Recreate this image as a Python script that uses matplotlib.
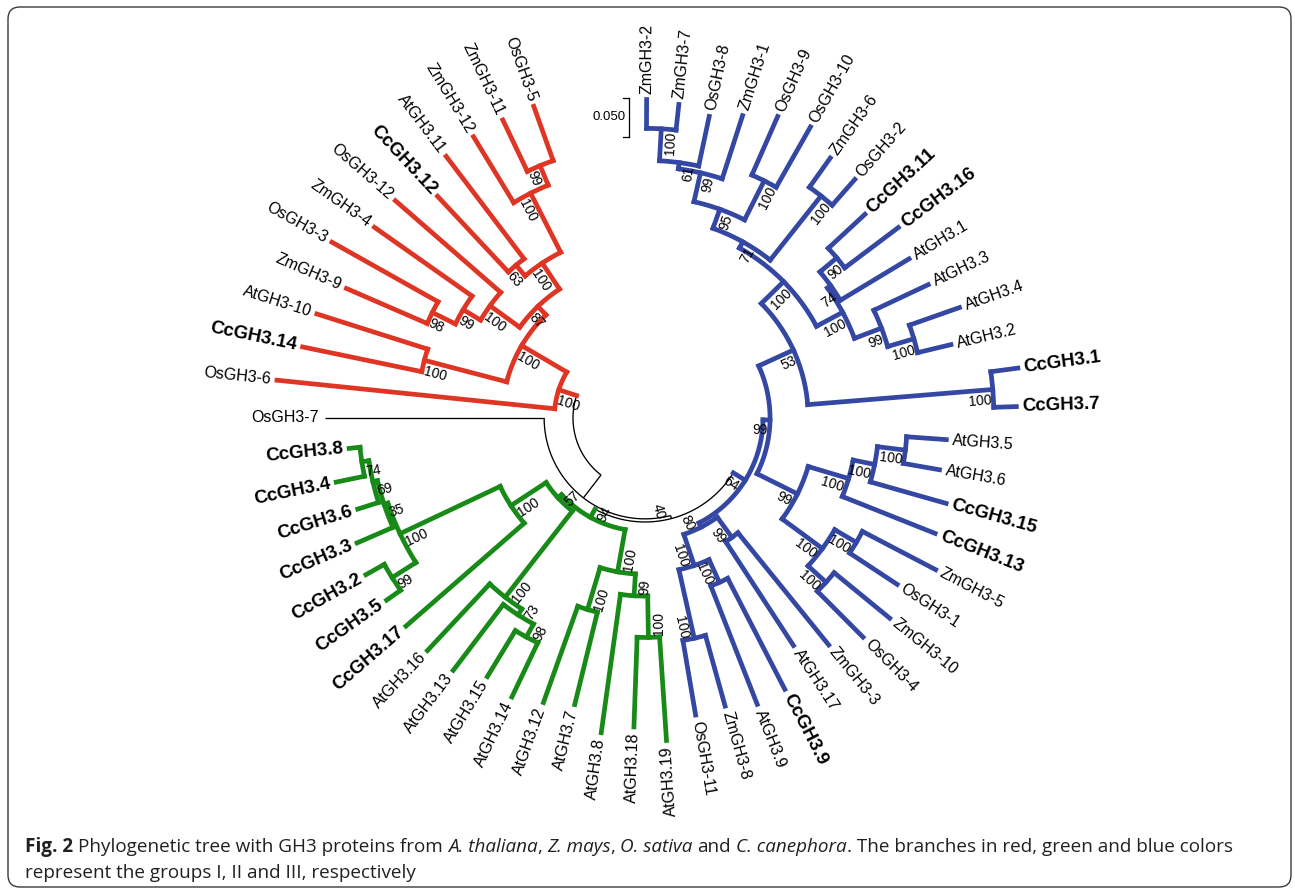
import numpy as np
import matplotlib
matplotlib.use("Agg")
import matplotlib.pyplot as plt
from matplotlib import font_manager as fm
from matplotlib.patches import FancyBboxPatch
from matplotlib.lines import Line2D
from matplotlib.transforms import IdentityTransform

# ---------------- data: tree topology, branch lengths, bootstrap values ----------------
GROUP_I_NEWICK = ("((((((OsGH3-5:0.074,ZmGH3-11:0.073)99:0.027,ZmGH3-12:0.099)100:0.085,"
                  "(AtGH3.11:0.165,CcGH3.12:0.133)63:0.018)100:0.040,"
                  "(OsGH3-12:0.179,(ZmGH3-4:0.153,(OsGH3-3:0.156,ZmGH3-9:0.113)98:0.033)99:0.026)100:0.047)87:0.015,"
                  "(AtGH3-10:0.149,CcGH3.14:0.156)100:0.109)100:0.067,OsGH3-6:0.358)100")
GROUP_II_NEWICK = ("(((((((CcGH3.8:0.014,CcGH3.4:0.037)74:0.009,CcGH3.6:0.028)69:0.006,CcGH3.3:0.050)35:0.005,"
                   "(CcGH3.2:0.027,CcGH3.5:0.022)99:0.036)100:0.142,CcGH3.17:0.201)100:0.054,"
                   "(AtGH3.16:0.117,(AtGH3.13:0.106,(AtGH3.15:0.069,AtGH3.14:0.077)98:0.019)73:0.009)100:0.140)57:0.006,"
                   "((AtGH3.12:0.131,AtGH3.7:0.122)100:0.056,"
                   "(AtGH3.8:0.179,(AtGH3.18:0.115,AtGH3.19:0.133)100:0.053)99:0.028)100:0.055)94")
GROUP_III_NEWICK = ("((((OsGH3-11:0.097,ZmGH3-8:0.094)100:0.090,(AtGH3.9:0.163,CcGH3.9:0.160)100:0.032)100:0.042,"
                    "(AtGH3.17:0.159,ZmGH3-3:0.185)99:0.032)80:0.006,"
                    "((((OsGH3-4:0.083,ZmGH3-10:0.092)100:0.031,(OsGH3-1:0.073,ZmGH3-5:0.106)100:0.032)100:0.064,"
                    "(CcGH3.13:0.128,(CcGH3.15:0.101,(AtGH3.6:0.047,AtGH3.5:0.051)100:0.036)100:0.028)100:0.054)99:0.058,"
                    "((CcGH3.7:0.029,CcGH3.1:0.035)100:0.238,"
                    "((((AtGH3.2:0.044,AtGH3.4:0.068)100:0.035,AtGH3.3:0.077)99:0.037,"
                    "(AtGH3.1:0.103,(CcGH3.16:0.086,CcGH3.11:0.064)90:0.028)74:0.005)100:0.038,"
                    "((OsGH3-2:0.044,ZmGH3-6:0.046)100:0.105,((OsGH3-10:0.089,OsGH3-9:0.082)100:0.056,"
                    "(ZmGH3-1:0.085,(OsGH3-8:0.065,(ZmGH3-7:0.033,ZmGH3-2:0.037)100:0.041)61:0.008)99:0.038)95:0.026)71:0.009)"
                    "100:0.040)53:0.049)99:0.009)64")
ROOT_NEWICK = "(GROUP_I:0.024,(OsGH3-7:0.281,(GROUP_II:0.012,GROUP_III:0.018)40:0.004):0.037)"
SCALE_VALUE = 0.05
SCALE_LABEL = "0.050"

CAPTION_LINE1 = [("Fig. 2", "bold", False),
                 ("Phylogenetic tree with GH3 proteins from", "normal", True),
                 ("A. thaliana", "italic", True), (",", "normal", False),
                 ("Z. mays", "italic", True), (",", "normal", False),
                 ("O. sativa", "italic", True), ("and", "normal", True),
                 ("C. canephora", "italic", True),
                 (". The branches in red, green and blue colors", "normal", False)]
CAPTION_LINE2 = [("represent the groups I, II and III, respectively", "normal", False)]

# ---------------- style / layout ----------------
W, H = 1295, 891
CX, CY = 645, 418          # tree centre (pixels from top-left)
R_PX = 400
PX_PER_UNIT = 780.0
ROOT_OFFSET = 72 / PX_PER_UNIT
GAP_SLOTS = 2.4
ANCHOR_TIP, ANCHOR_DEG = "OsGH3-7", 180.0
GROUP_COLORS = {"I": "#DF3524", "II": "#178A17", "III": "#3447A3"}
LW_COLOR, LW_BLACK = 3.4, 0.95
TIP_FONT = "Liberation Sans"
CAP_FONT = "Open Sans"


def parse_newick(s):
    pos = 0

    def node():
        nonlocal pos
        n = {"children": [], "name": "", "support": "", "length": 0.0}
        if s[pos] == "(":
            pos += 1
            while True:
                n["children"].append(node())
                if s[pos] == ",":
                    pos += 1
                    continue
                if s[pos] == ")":
                    pos += 1
                    break
        start = pos
        while pos < len(s) and s[pos] not in ":,();":
            pos += 1
        label = s[start:pos]
        if n["children"]:
            n["support"] = label
        else:
            n["name"] = label
        if pos < len(s) and s[pos] == ":":
            pos += 1
            start = pos
            while pos < len(s) and s[pos] not in ",();":
                pos += 1
            n["length"] = float(s[start:pos])
        return n

    return node()


groups = {"GROUP_I": ("I", parse_newick(GROUP_I_NEWICK)),
          "GROUP_II": ("II", parse_newick(GROUP_II_NEWICK)),
          "GROUP_III": ("III", parse_newick(GROUP_III_NEWICK))}
root = parse_newick(ROOT_NEWICK)


def mark(n, g):
    n["group"] = g
    for c in n["children"]:
        mark(c, g)


def graft(n):
    for i, c in enumerate(n["children"]):
        if c["name"] in groups:
            g, sub = groups[c["name"]]
            sub["length"] = c["length"]
            mark(sub, g)
            n["children"][i] = sub
        else:
            c.setdefault("group", None)
            graft(c)


root["group"] = None
graft(root)

leaves = []


def collect(n):
    if not n["children"]:
        leaves.append(n)
    for c in n["children"]:
        collect(c)


collect(root)


def set_r(n, r0):
    n["r"] = r0 + n["length"]
    for c in n["children"]:
        set_r(c, n["r"])


root["length"] = 0.0
set_r(root, ROOT_OFFSET)

step = 360.0 / (len(leaves) + GAP_SLOTS)
anchor_idx = [lf["name"] for lf in leaves].index(ANCHOR_TIP)
for i, lf in enumerate(leaves):
    lf["theta"] = ANCHOR_DEG + (i - anchor_idx) * step


def set_theta(n):
    if n["children"]:
        for c in n["children"]:
            set_theta(c)
        n["theta"] = 0.5 * (n["children"][0]["theta"] + n["children"][-1]["theta"])


set_theta(root)

# ---------------- figure ----------------
fig = plt.figure(figsize=(W / 100, H / 100), dpi=100)
fig.patch.set_facecolor("white")
ax = fig.add_axes([(CX - R_PX) / W, (H - CY - R_PX) / H, 2 * R_PX / W, 2 * R_PX / H],
                  projection="polar")
ax.set_axis_off()
ax.set_autoscale_on(False)
ax.set_ylim(0, R_PX / PX_PER_UNIT)


def draw(n, parent_r):
    col = GROUP_COLORS.get(n["group"], "black")
    lw = LW_COLOR if n["group"] else LW_BLACK
    z = 3 if n["group"] else 2
    cap = "projecting" if n["group"] else "butt"
    th = np.deg2rad(n["theta"])
    if parent_r is not None:
        ax.plot([th, th], [parent_r, n["r"]], color=col, lw=lw, zorder=z,
                solid_capstyle=cap, clip_on=False)
    if n["children"]:
        t1 = np.deg2rad(n["children"][0]["theta"])
        t2 = np.deg2rad(n["children"][-1]["theta"])
        k = max(2, int(abs(t2 - t1) / 0.005))
        tt = np.linspace(t1, t2, k)
        ax.plot(tt, np.full_like(tt, n["r"]), color=col, lw=lw, zorder=z,
                solid_capstyle=cap, clip_on=False)
        for c in n["children"]:
            draw(c, n["r"])


draw(root, None)


def orient(theta):
    a = theta % 360
    if 90 < a < 277:
        return a - 180, "left_side"
    return (a if a <= 90 else a - 360), "right_side"


TIP_OFF = 6 / PX_PER_UNIT
for lf in leaves:
    rot, side = orient(lf["theta"])
    bold = lf["name"].startswith("Cc")
    ax.text(np.deg2rad(lf["theta"]), lf["r"] + TIP_OFF, lf["name"],
            rotation=rot, rotation_mode="anchor",
            ha="left" if side == "right_side" else "right", va="center",
            fontsize=13.5 if bold else 11.5, fontweight="bold" if bold else "normal",
            family=TIP_FONT, color="black", zorder=5)

internal = []


def collect_int(n):
    if n["children"]:
        internal.append(n)
        for c in n["children"]:
            collect_int(c)


collect_int(root)
for n in internal:
    if not n["support"]:
        continue
    rot, side = orient(n["theta"])
    r_px = n["r"] * PX_PER_UNIT
    dth = 3.5 / r_px
    th = np.deg2rad(n["theta"]) + (-dth if side == "right_side" else dth)
    ax.text(th, n["r"] - 2 / PX_PER_UNIT, n["support"], rotation=rot, rotation_mode="anchor",
            ha="right" if side == "right_side" else "left", va="top",
            fontsize=10, family=TIP_FONT, color="black", zorder=6)

# ---------------- scale bar ----------------
p0 = ax.transData.transform((0, 0))
p1 = ax.transData.transform((0, SCALE_VALUE))
L = float(np.hypot(*(p1 - p0)))
bx, by_top = 629, 98
def fx(x): return x / W
def fy(y): return 1 - y / H
fig.add_artist(Line2D([fx(bx), fx(bx)], [fy(by_top), fy(by_top + L)], transform=fig.transFigure,
                      color="black", lw=0.9))
for yy in (by_top, by_top + L):
    fig.add_artist(Line2D([fx(bx - 6), fx(bx)], [fy(yy), fy(yy)], transform=fig.transFigure,
                          color="black", lw=0.9))
fig.text(fx(bx - 3), fy(by_top + L / 2), SCALE_LABEL, ha="right", va="center",
         fontsize=9.5, family=TIP_FONT)

# ---------------- caption ----------------
CAP_COLOR = "#231F20"
renderer = fig.canvas.get_renderer()


def make_fp(style, size_px):
    return fm.FontProperties(family=CAP_FONT,
                             weight="bold" if style == "bold" else "normal",
                             style="italic" if style == "italic" else "normal",
                             size=size_px * 0.72)


def place_line(tokens, x0, ybase, size_px, draw_it=True):
    fpn = make_fp("normal", size_px)

    def width(s, fp):
        t = fig.text(0, 0, s, fontproperties=fp)
        w = t.get_window_extent(renderer).width
        t.remove()
        return w
    sp = width("x x", fpn) - width("xx", fpn)
    x = x0
    for txt, style, space_before in tokens:
        if space_before:
            x += sp
        fp = make_fp(style, size_px)
        if draw_it:
            t = fig.text(fx(x), fy(ybase), txt, fontproperties=fp, ha="left", va="baseline",
                         color=CAP_COLOR)
            x += t.get_window_extent(renderer).width
        else:
            x += width(txt, fp)
    return x - x0


base_px = 18.0
w1 = place_line(CAPTION_LINE1, 25, 852, base_px, draw_it=False)
cap_px = min(base_px * 1207.0 / w1, 21.0)
place_line(CAPTION_LINE1, 25, 852, cap_px)
place_line(CAPTION_LINE2, 25, 878, cap_px)

# border
border = FancyBboxPatch((8, 4), 1283, 880, boxstyle="round,pad=0,rounding_size=12",
                        transform=IdentityTransform(), fill=False, ec="#3a3a3a", lw=1.0)
fig.patches.append(border)

fig.savefig("out.png", dpi=100, facecolor="white")
